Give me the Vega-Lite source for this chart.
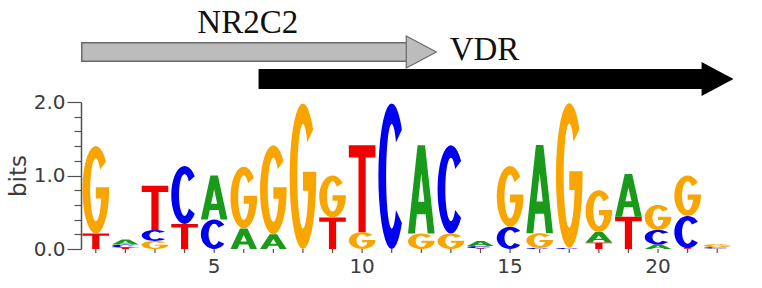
{
  "$schema": "https://vega.github.io/schema/vega-lite/v6.json",
  "width": 651,
  "height": 147,
  "autosize": {"type": "none"},
  "padding": {"left": 81, "top": 102, "right": 30, "bottom": 39},
  "background": "white",
  "config": {"view": {"stroke": null}},
  "datasets": {
    "letters": [
      {"pos": 1, "base": "T", "bits": 0.21}, {"pos": 1, "base": "G", "bits": 1.19},
      {"pos": 2, "base": "T", "bits": 0.02}, {"pos": 2, "base": "C", "bits": 0.04}, {"pos": 2, "base": "A", "bits": 0.07},
      {"pos": 3, "base": "G", "bits": 0.11}, {"pos": 3, "base": "C", "bits": 0.15}, {"pos": 3, "base": "T", "bits": 0.60},
      {"pos": 4, "base": "T", "bits": 0.34}, {"pos": 4, "base": "C", "bits": 0.79},
      {"pos": 5, "base": "C", "bits": 0.40}, {"pos": 5, "base": "A", "bits": 0.60},
      {"pos": 6, "base": "A", "bits": 0.28}, {"pos": 6, "base": "G", "bits": 0.84},
      {"pos": 7, "base": "A", "bits": 0.20}, {"pos": 7, "base": "G", "bits": 1.21},
      {"pos": 8, "base": "G", "bits": 1.98},
      {"pos": 9, "base": "T", "bits": 0.43}, {"pos": 9, "base": "G", "bits": 0.57},
      {"pos": 10, "base": "G", "bits": 0.23}, {"pos": 10, "base": "T", "bits": 1.18},
      {"pos": 11, "base": "C", "bits": 1.98},
      {"pos": 12, "base": "G", "bits": 0.21}, {"pos": 12, "base": "A", "bits": 1.20},
      {"pos": 13, "base": "G", "bits": 0.21}, {"pos": 13, "base": "C", "bits": 1.20},
      {"pos": 14, "base": "T", "bits": 0.01}, {"pos": 14, "base": "C", "bits": 0.03}, {"pos": 14, "base": "A", "bits": 0.07},
      {"pos": 15, "base": "C", "bits": 0.30}, {"pos": 15, "base": "G", "bits": 0.83},
      {"pos": 16, "base": "C", "bits": 0.015}, {"pos": 16, "base": "G", "bits": 0.20}, {"pos": 16, "base": "A", "bits": 1.20},
      {"pos": 17, "base": "C", "bits": 0.015}, {"pos": 17, "base": "G", "bits": 1.97},
      {"pos": 18, "base": "T", "bits": 0.09}, {"pos": 18, "base": "A", "bits": 0.14}, {"pos": 18, "base": "G", "bits": 0.57},
      {"pos": 19, "base": "T", "bits": 0.44}, {"pos": 19, "base": "A", "bits": 0.58},
      {"pos": 20, "base": "A", "bits": 0.06}, {"pos": 20, "base": "C", "bits": 0.20}, {"pos": 20, "base": "G", "bits": 0.34},
      {"pos": 21, "base": "T", "bits": 0.01}, {"pos": 21, "base": "C", "bits": 0.44}, {"pos": 21, "base": "G", "bits": 0.55},
      {"pos": 22, "base": "T", "bits": 0.005}, {"pos": 22, "base": "C", "bits": 0.02}, {"pos": 22, "base": "G", "bits": 0.04}
    ],
    "glyphs": [
      {"base": "T",
       "gx": [-1, 1, 1, 0.27, 0.27, -0.27, -0.27, -1],
       "gy": [1, 1, 0.72, 0.72, -1, -1, 0.72, 0.72],
       "gi": [0, 1, 2, 3, 4, 5, 6, 7]},
      {"base": "A",
       "gx": [-1, -0.48, -0.33, 0.33, 0.48, 1, 0.28, 0, 0, 0.23, -0.23, 0, 0, -0.28],
       "gy": [-1, -1, -0.56, -0.56, -1, -1, 1, 1, 0.36, -0.28, -0.28, 0.36, 1, 1],
       "gi": [0, 1, 2, 3, 4, 5, 6, 7, 8, 9, 10, 11, 12, 13]},
      {"base": "C",
       "gx": [0.766, 0.643, 0.5, 0.342, 0.174, 0, -0.174, -0.342, -0.5, -0.643, -0.766, -0.866, -0.94, -0.985, -1, -0.985, -0.94, -0.866, -0.766, -0.643, -0.5, -0.342, -0.174, 0, 0.174, 0.342, 0.5, 0.643, 0.766,
              0.322, 0.27, 0.21, 0.144, 0.073, 0, -0.073, -0.144, -0.21, -0.27, -0.322, -0.364, -0.395, -0.414, -0.42, -0.414, -0.395, -0.364, -0.322, -0.27, -0.21, -0.144, -0.073, 0, 0.073, 0.144, 0.21, 0.27, 0.322],
       "gy": [0.643, 0.766, 0.866, 0.94, 0.985, 1, 0.985, 0.94, 0.866, 0.766, 0.643, 0.5, 0.342, 0.174, 0, -0.174, -0.342, -0.5, -0.643, -0.766, -0.866, -0.94, -0.985, -1, -0.985, -0.94, -0.866, -0.766, -0.643,
              -0.463, -0.552, -0.624, -0.677, -0.709, -0.72, -0.709, -0.677, -0.624, -0.552, -0.463, -0.36, -0.246, -0.125, 0, 0.125, 0.246, 0.36, 0.463, 0.552, 0.624, 0.677, 0.709, 0.72, 0.709, 0.677, 0.624, 0.552, 0.463],
       "gi": [0, 1, 2, 3, 4, 5, 6, 7, 8, 9, 10, 11, 12, 13, 14, 15, 16, 17, 18, 19, 20, 21, 22, 23, 24, 25, 26, 27, 28, 29, 30, 31, 32, 33, 34, 35, 36, 37, 38, 39, 40, 41, 42, 43, 44, 45, 46, 47, 48, 49, 50, 51, 52, 53, 54, 55, 56, 57]},
      {"base": "G",
       "gx": [0.766, 0.643, 0.5, 0.342, 0.174, 0, -0.174, -0.342, -0.5, -0.643, -0.766, -0.866, -0.94, -0.985, -1, -0.985, -0.94, -0.866, -0.766, -0.643, -0.5, -0.342, -0.174, 0, 0.174, 0.342, 0.5, 0.643, 0.766, 0.866, 0.94, 0.985, 1,
              1, 0, 0, 0.4,
              0.395, 0.364, 0.322, 0.27, 0.21, 0.144, 0.073, 0, -0.073, -0.144, -0.21, -0.27, -0.322, -0.364, -0.395, -0.414, -0.42, -0.414, -0.395, -0.364, -0.322, -0.27, -0.21, -0.144, -0.073, 0, 0.073, 0.144, 0.21, 0.27, 0.322],
       "gy": [0.643, 0.766, 0.866, 0.94, 0.985, 1, 0.985, 0.94, 0.866, 0.766, 0.643, 0.5, 0.342, 0.174, 0, -0.174, -0.342, -0.5, -0.643, -0.766, -0.866, -0.94, -0.985, -1, -0.985, -0.94, -0.866, -0.766, -0.643, -0.5, -0.342, -0.174, 0,
              0.06, 0.06, -0.2, -0.2,
              -0.246, -0.36, -0.463, -0.552, -0.624, -0.677, -0.709, -0.72, -0.709, -0.677, -0.624, -0.552, -0.463, -0.36, -0.246, -0.125, 0, 0.125, 0.246, 0.36, 0.463, 0.552, 0.624, 0.677, 0.709, 0.72, 0.709, 0.677, 0.624, 0.552, 0.463],
       "gi": [0, 1, 2, 3, 4, 5, 6, 7, 8, 9, 10, 11, 12, 13, 14, 15, 16, 17, 18, 19, 20, 21, 22, 23, 24, 25, 26, 27, 28, 29, 30, 31, 32, 33, 34, 35, 36, 37, 38, 39, 40, 41, 42, 43, 44, 45, 46, 47, 48, 49, 50, 51, 52, 53, 54, 55, 56, 57, 58, 59, 60, 61, 62, 63, 64, 65, 66, 67]}
    ],
    "motifs": [
      {"name": "NR2C2", "start": 1, "end": 12, "track": 2},
      {"name": "VDR", "start": 7, "end": 22, "track": 1}
    ],
    "positions": [
      {"pos": 1}, {"pos": 2}, {"pos": 3}, {"pos": 4}, {"pos": 5}, {"pos": 6}, {"pos": 7}, {"pos": 8}, {"pos": 9}, {"pos": 10}, {"pos": 11},
      {"pos": 12}, {"pos": 13}, {"pos": 14}, {"pos": 15}, {"pos": 16}, {"pos": 17}, {"pos": 18}, {"pos": 19}, {"pos": 20}, {"pos": 21}, {"pos": 22}
    ]
  },
  "layer": [
    {
      "data": {"name": "letters"},
      "transform": [
        {"window": [{"op": "sum", "field": "bits", "as": "cum"}], "groupby": ["pos"], "sort": [{"field": "bits", "order": "ascending"}], "ignorePeers": true},
        {"calculate": "datum.cum - datum.bits", "as": "y0"},
        {"lookup": "base", "from": {"data": {"name": "glyphs"}, "key": "base", "fields": ["gx", "gy", "gi"]}},
        {"flatten": ["gx", "gy", "gi"]},
        {"calculate": "datum.pos + 0.45 * datum.gx", "as": "px"},
        {"calculate": "datum.y0 + datum.bits * (datum.gy + 1) / 2", "as": "py"}
      ],
      "mark": {"type": "line", "filled": true, "strokeWidth": 0, "interpolate": "linear"},
      "encoding": {
        "x": {
          "field": "px", "type": "quantitative",
          "scale": {"domain": [0.5, 22.5], "nice": false, "zero": false},
          "axis": {
            "values": [1, 2, 3, 4, 5, 6, 7, 8, 9, 10, 11, 12, 13, 14, 15, 16, 17, 18, 19, 20, 21, 22],
            "labels": false,
            "title": null, "grid": false, "tickSize": 5,
            "domainColor": "#505050", "tickColor": "#505050", "domainWidth": 1.5, "tickWidth": 1.2
          }
        },
        "y": {
          "field": "py", "type": "quantitative",
          "scale": {"domain": [0, 2], "nice": false, "zero": false},
          "axis": {
            "values": [0, 0.2, 0.4, 0.6, 0.8, 1, 1.2, 1.4, 1.6, 1.8, 2],
            "labelExpr": "datum.value % 1 === 0 ? format(datum.value, '.1f') : ''",
            "tickSize": {"condition": {"test": "datum.value % 1 === 0", "value": 14}, "value": 7},
            "labelPadding": 2, "grid": false, "labelOverlap": false,
            "labelFont": "DejaVu Sans", "labelFontSize": 20, "labelColor": "#3c3c3c",
            "domainColor": "#505050", "tickColor": "#505050", "domainWidth": 1.5, "tickWidth": 1.2,
            "title": "bits", "titleFont": "DejaVu Sans", "titleFontSize": 23, "titleFontWeight": "normal",
            "titleColor": "#3c3c3c", "titlePadding": 3
          }
        },
        "detail": [{"field": "pos", "type": "nominal"}, {"field": "base", "type": "nominal"}],
        "order": {"field": "gi", "type": "quantitative"},
        "color": {
          "field": "base", "type": "nominal",
          "scale": {"domain": ["A", "C", "G", "T"], "range": ["#1a9a1a", "#0000f0", "#f9a500", "#f00000"]},
          "legend": null
        }
      }
    },
    {
      "data": {"name": "positions"},
      "mark": {"type": "rule", "color": "#505050", "strokeWidth": 1.2},
      "encoding": {
        "x": {"field": "pos", "type": "quantitative", "scale": {"domain": [0.5, 22.5], "nice": false, "zero": false}, "axis": null},
        "y": {"datum": 0, "type": "quantitative", "scale": {"domain": [0, 2], "nice": false, "zero": false}, "axis": null},
        "y2": {"datum": -0.055}
      }
    },
    {
      "data": {"name": "positions"},
      "transform": [{"filter": "datum.pos % 5 === 0"}],
      "mark": {"type": "text", "font": "DejaVu Sans", "fontSize": 20, "color": "#3c3c3c", "baseline": "top", "align": "center", "dy": 8},
      "encoding": {
        "x": {"field": "pos", "type": "quantitative", "scale": {"domain": [0.5, 22.5], "nice": false, "zero": false}, "axis": null},
        "y": {"datum": 0, "type": "quantitative", "scale": {"domain": [0, 2], "nice": false, "zero": false}, "axis": null},
        "text": {"field": "pos", "type": "quantitative"}
      }
    },
    {
      "data": {"name": "motifs"},
      "transform": [
        {"calculate": "datum.start - 0.5", "as": "lo"},
        {"calculate": "datum.end - 0.5", "as": "hi"}
      ],
      "mark": {"type": "rule", "strokeWidth": 20, "strokeCap": "butt"},
      "encoding": {
        "x": {"field": "lo", "type": "quantitative", "scale": {"domain": [0.5, 22.5], "nice": false, "zero": false}, "axis": null},
        "x2": {"field": "hi"},
        "y": {"field": "track", "type": "quantitative", "scale": {"domain": [-5.2963, 0.1481], "nice": false, "zero": false}, "axis": null},
        "color": {"condition": {"test": "datum.name === 'VDR'", "value": "#000000"}, "value": "#6a6a6a"}
      }
    },
    {
      "data": {"name": "motifs"},
      "transform": [
        {"calculate": "datum.start - 0.45", "as": "lo"},
        {"calculate": "datum.end - 0.5", "as": "hi"}
      ],
      "mark": {"type": "rule", "strokeWidth": 17, "strokeCap": "butt"},
      "encoding": {
        "x": {"field": "lo", "type": "quantitative", "scale": {"domain": [0.5, 22.5], "nice": false, "zero": false}, "axis": null},
        "x2": {"field": "hi"},
        "y": {"field": "track", "type": "quantitative", "scale": {"domain": [-5.2963, 0.1481], "nice": false, "zero": false}, "axis": null},
        "color": {"condition": {"test": "datum.name === 'VDR'", "value": "#000000"}, "value": "#bcbcbc"}
      }
    },
    {
      "data": {"name": "motifs"},
      "mark": {"type": "point", "shape": "M -0.94 -1 L 0.94 0 L -0.94 1 Z", "size": 1024, "filled": true, "opacity": 1, "strokeWidth": 1.2},
      "encoding": {
        "x": {"field": "end", "type": "quantitative", "scale": {"domain": [0.5, 22.5], "nice": false, "zero": false}, "axis": null},
        "y": {"field": "track", "type": "quantitative", "scale": {"domain": [-5.2963, 0.1481], "nice": false, "zero": false}, "axis": null},
        "fill": {"condition": {"test": "datum.name === 'VDR'", "value": "#000000"}, "value": "#bcbcbc"},
        "stroke": {"condition": {"test": "datum.name === 'VDR'", "value": "#000000"}, "value": "#6a6a6a"}
      }
    },
    {
      "data": {"name": "motifs"},
      "transform": [{"calculate": "(datum.start + datum.end) / 2 - 0.5", "as": "mid"}],
      "mark": {"type": "text", "font": "Liberation Serif", "fontSize": 33, "dy": -19, "dx": 4, "align": "center", "baseline": "alphabetic", "color": "#111111"},
      "encoding": {
        "x": {"field": "mid", "type": "quantitative", "scale": {"domain": [0.5, 22.5], "nice": false, "zero": false}, "axis": null},
        "y": {"field": "track", "type": "quantitative", "scale": {"domain": [-5.2963, 0.1481], "nice": false, "zero": false}, "axis": null},
        "text": {"field": "name"}
      }
    }
  ],
  "resolve": {"scale": {"y": "independent"}}
}
